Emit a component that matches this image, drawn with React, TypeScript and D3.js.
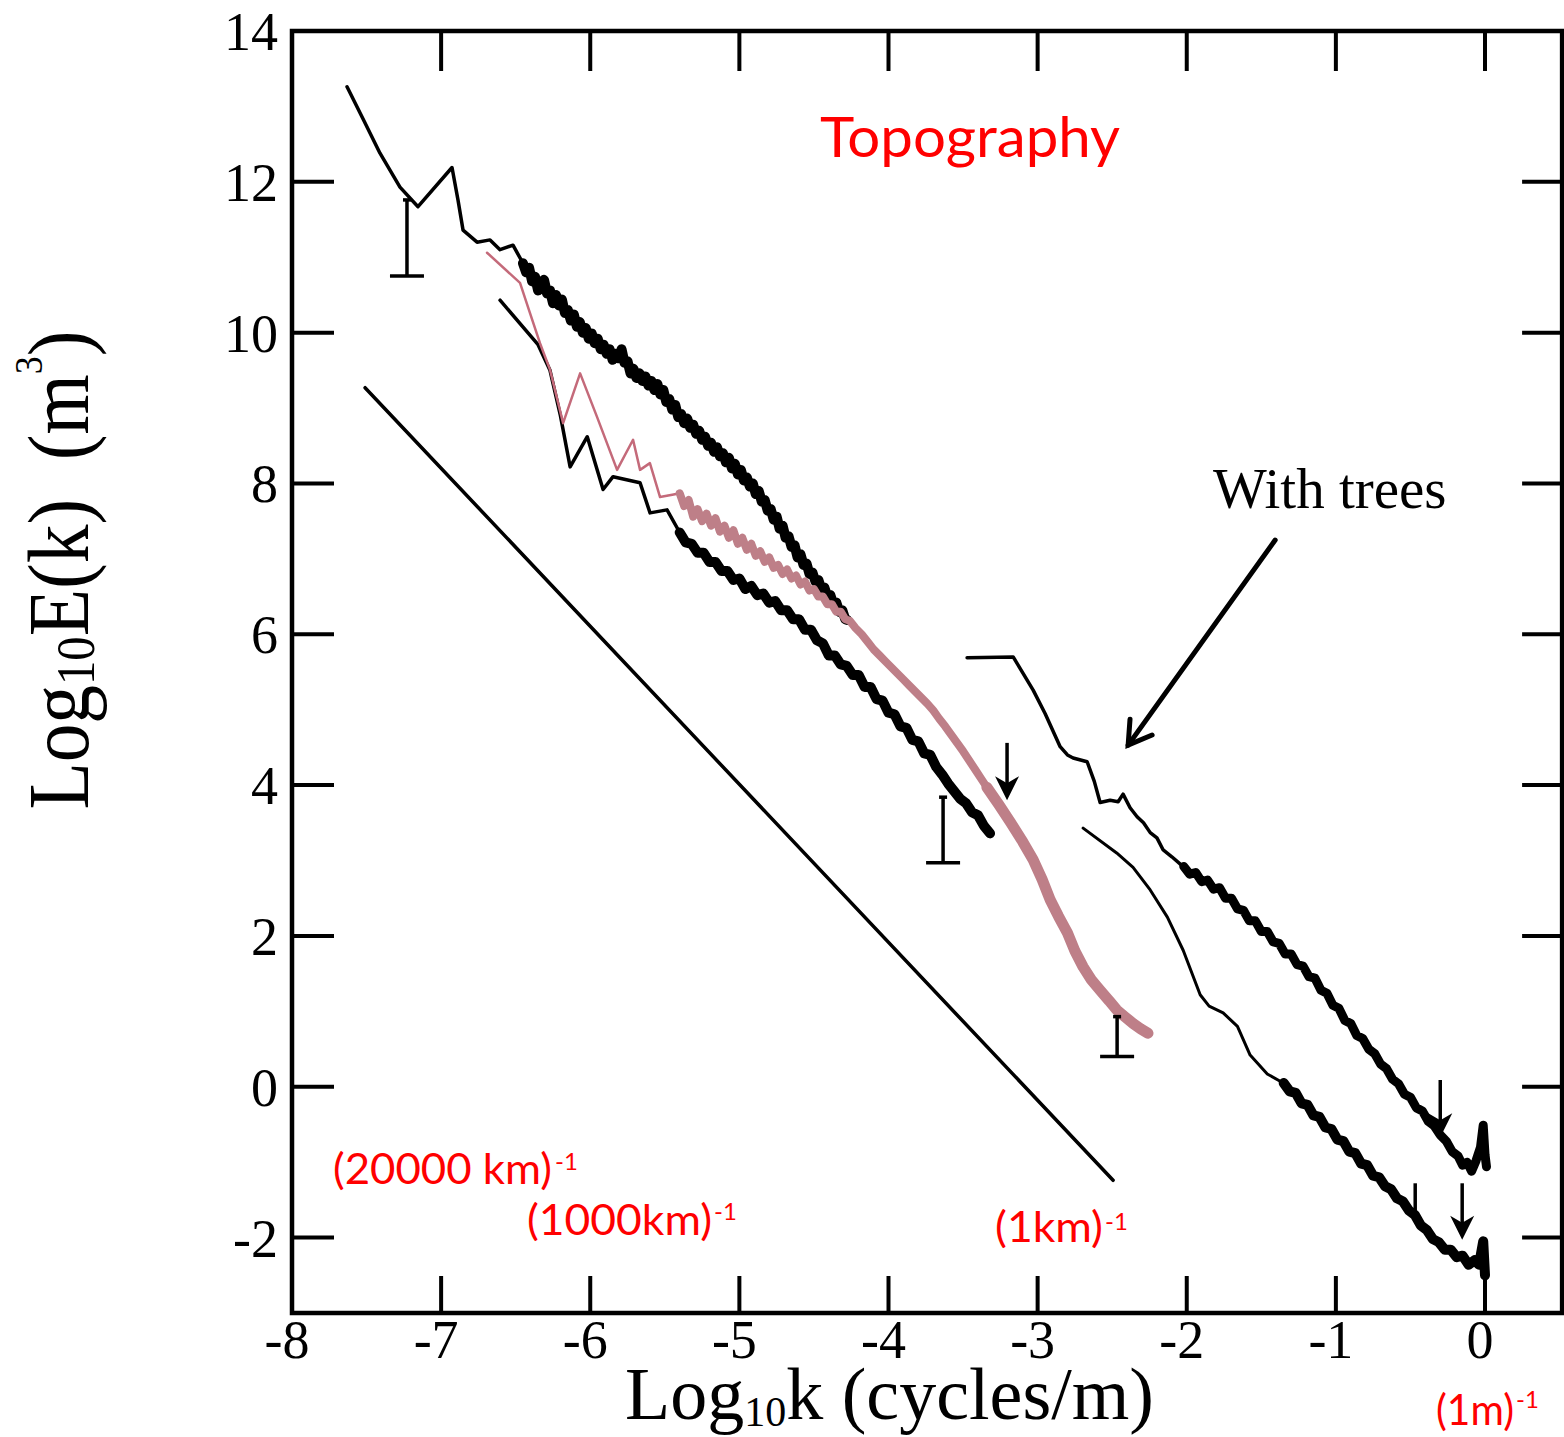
import React from "react";
import * as d3 from "d3";

type P = [number, number];

// ---------- axis ticks ----------
const xTicks = [-8, -7, -6, -5, -4, -3, -2, -1, 0];
const yTicks = [14, 12, 10, 8, 6, 4, 2, 0, -2];

// ---------- series (log10 k, log10 E) ----------
const topLeftThin: P[] = [
  [-7.631, 13.26], [-7.52, 12.82], [-7.41, 12.38], [-7.276, 11.93], [-7.155, 11.67],
  [-6.927, 12.19], [-6.887, 11.76], [-6.853, 11.36], [-6.759, 11.2], [-6.672, 11.23],
  [-6.605, 11.1], [-6.518, 11.16], [-6.451, 10.92],
];
const upperThick: P[] = [
  [-6.451, 10.92], [-6.43, 10.8], [-6.41, 10.86], [-6.39, 10.68], [-6.37, 10.74], [-6.35, 10.56],
  [-6.33, 10.62], [-6.31, 10.7], [-6.29, 10.52], [-6.27, 10.56], [-6.25, 10.39], [-6.23, 10.5],
  [-6.21, 10.36], [-6.19, 10.44], [-6.17, 10.26], [-6.15, 10.3], [-6.13, 10.16], [-6.11, 10.24],
  [-6.09, 10.08], [-6.07, 10.14], [-6.05, 10.0], [-6.03, 10.06], [-6.01, 9.92], [-5.99, 9.99],
  [-5.97, 9.86], [-5.95, 9.92], [-5.93, 9.78], [-5.91, 9.84], [-5.89, 9.72], [-5.87, 9.78],
  [-5.85, 9.64], [-5.83, 9.72], [-5.81, 9.66], [-5.79, 9.78], [-5.77, 9.6], [-5.75, 9.62],
  [-5.73, 9.46], [-5.71, 9.52], [-5.69, 9.4], [-5.67, 9.46], [-5.65, 9.36], [-5.63, 9.42],
  [-5.61, 9.3], [-5.59, 9.36], [-5.57, 9.24], [-5.55, 9.32], [-5.53, 9.18], [-5.51, 9.24],
  [-5.49, 9.08], [-5.47, 9.12], [-5.45, 8.98], [-5.43, 9.04], [-5.41, 8.88], [-5.39, 8.92],
  [-5.37, 8.8], [-5.35, 8.86], [-5.33, 8.74], [-5.31, 8.78], [-5.29, 8.66], [-5.27, 8.7],
  [-5.25, 8.58], [-5.23, 8.62], [-5.21, 8.5], [-5.19, 8.54], [-5.17, 8.42], [-5.15, 8.48],
  [-5.13, 8.36], [-5.11, 8.4], [-5.09, 8.28], [-5.07, 8.34], [-5.05, 8.2], [-5.03, 8.26],
  [-5.01, 8.12], [-4.99, 8.18], [-4.97, 8.04], [-4.95, 8.08], [-4.93, 7.96], [-4.91, 8.0],
  [-4.89, 7.86], [-4.87, 7.9], [-4.85, 7.76], [-4.83, 7.78], [-4.81, 7.64], [-4.79, 7.66],
  [-4.77, 7.52], [-4.75, 7.56], [-4.73, 7.4], [-4.71, 7.44], [-4.69, 7.28], [-4.67, 7.3],
  [-4.65, 7.16], [-4.63, 7.18], [-4.61, 7.02], [-4.59, 7.06], [-4.57, 6.92], [-4.55, 6.94],
  [-4.53, 6.8], [-4.51, 6.82], [-4.49, 6.7], [-4.47, 6.72], [-4.45, 6.6], [-4.43, 6.62],
  [-4.41, 6.5], [-4.39, 6.52], [-4.37, 6.4], [-4.35, 6.42], [-4.33, 6.3], [-4.31, 6.32],
  [-4.29, 6.2], [-4.278, 6.19],
];
const lowerThin: P[] = [
  [-6.605, 10.43], [-6.35, 9.84], [-6.27, 9.5], [-6.2, 8.9], [-6.135, 8.22], [-6.02, 8.62],
  [-5.914, 7.92], [-5.847, 8.09], [-5.666, 8.01], [-5.599, 7.61], [-5.485, 7.65], [-5.4, 7.35],
];
const lowerThick: P[] = [
  [-5.4, 7.35], [-5.36, 7.22], [-5.32, 7.2], [-5.28, 7.08], [-5.24, 7.08], [-5.2, 6.96],
  [-5.16, 6.96], [-5.12, 6.84], [-5.08, 6.84], [-5.04, 6.72], [-5.0, 6.74], [-4.96, 6.6],
  [-4.92, 6.64], [-4.88, 6.52], [-4.84, 6.54], [-4.8, 6.42], [-4.76, 6.44], [-4.72, 6.32],
  [-4.68, 6.32], [-4.64, 6.2], [-4.6, 6.2], [-4.56, 6.06], [-4.52, 6.06], [-4.48, 5.92],
  [-4.44, 5.88], [-4.4, 5.72], [-4.36, 5.72], [-4.32, 5.6], [-4.28, 5.58], [-4.24, 5.46],
  [-4.2, 5.46], [-4.16, 5.3], [-4.12, 5.3], [-4.08, 5.14], [-4.04, 5.12], [-4.0, 4.96],
  [-3.96, 4.94], [-3.92, 4.78], [-3.88, 4.76], [-3.84, 4.6], [-3.8, 4.58], [-3.76, 4.42],
  [-3.72, 4.4], [-3.68, 4.24], [-3.64, 4.14], [-3.6, 4.02], [-3.56, 3.92], [-3.52, 3.82],
  [-3.48, 3.76], [-3.44, 3.64], [-3.4, 3.6], [-3.36, 3.46], [-3.319, 3.36],
];
const pinkThin: P[] = [
  [-6.692, 11.06], [-6.471, 10.66], [-6.404, 10.26], [-6.337, 9.86], [-6.27, 9.51], [-6.182, 8.8],
  [-6.068, 9.46], [-5.954, 8.88], [-5.82, 8.18], [-5.713, 8.58], [-5.666, 8.18], [-5.6, 8.27],
  [-5.532, 7.82], [-5.45, 7.85], [-5.398, 7.87],
];
const pinkThickA: P[] = [
  [-5.4, 7.87], [-5.37, 7.7], [-5.34, 7.78], [-5.31, 7.56], [-5.28, 7.66], [-5.25, 7.5],
  [-5.22, 7.6], [-5.19, 7.44], [-5.16, 7.54], [-5.13, 7.36], [-5.1, 7.44], [-5.07, 7.28],
  [-5.04, 7.38], [-5.01, 7.2], [-4.98, 7.28], [-4.95, 7.12], [-4.92, 7.2], [-4.89, 7.04],
  [-4.86, 7.1], [-4.83, 6.96], [-4.8, 7.02], [-4.77, 6.88], [-4.74, 6.92], [-4.71, 6.8],
  [-4.68, 6.86], [-4.65, 6.74], [-4.62, 6.78], [-4.59, 6.66], [-4.56, 6.7], [-4.53, 6.58],
  [-4.5, 6.6], [-4.47, 6.5], [-4.44, 6.5], [-4.41, 6.4], [-4.38, 6.4], [-4.35, 6.3],
  [-4.32, 6.3], [-4.29, 6.2], [-4.26, 6.18], [-4.22, 6.08], [-4.18, 6.0], [-4.14, 5.9],
  [-4.1, 5.8], [-4.06, 5.72], [-4.02, 5.64], [-3.98, 5.56], [-3.94, 5.48], [-3.9, 5.4],
  [-3.86, 5.32], [-3.82, 5.24], [-3.78, 5.16], [-3.74, 5.08], [-3.7, 4.99], [-3.66, 4.88],
  [-3.62, 4.78], [-3.58, 4.67], [-3.54, 4.56], [-3.5, 4.45], [-3.46, 4.33], [-3.42, 4.21],
  [-3.38, 4.09], [-3.34, 3.97],
];
const pinkThickB: P[] = [
  [-3.34, 3.97], [-3.26, 3.74], [-3.18, 3.5], [-3.1, 3.25], [-3.03, 3.01], [-2.97, 2.75],
  [-2.916, 2.48], [-2.86, 2.26], [-2.8, 2.04], [-2.75, 1.8], [-2.695, 1.59], [-2.64, 1.42],
  [-2.581, 1.28], [-2.52, 1.14], [-2.47, 1.02], [-2.41, 0.92], [-2.36, 0.84], [-2.31, 0.77],
  [-2.26, 0.71],
];
const refLine: P[] = [[-7.51, 9.27], [-2.494, -1.24]];
const treesUpperThin: P[] = [
  [-3.473, 5.69], [-3.164, 5.7], [-3.03, 5.26], [-2.95, 4.95], [-2.849, 4.51], [-2.8, 4.4],
  [-2.762, 4.36], [-2.668, 4.31], [-2.62, 4.05], [-2.581, 3.77], [-2.514, 3.8], [-2.46, 3.78],
  [-2.427, 3.88], [-2.38, 3.7], [-2.333, 3.58], [-2.29, 3.5], [-2.245, 3.37], [-2.2, 3.3],
  [-2.158, 3.14], [-2.1, 3.05], [-2.024, 2.92],
];
const treesUpperThick: P[] = [
  [-2.02, 2.92], [-1.98, 2.82], [-1.94, 2.84], [-1.9, 2.72], [-1.86, 2.74], [-1.82, 2.62],
  [-1.78, 2.64], [-1.74, 2.5], [-1.7, 2.5], [-1.66, 2.36], [-1.62, 2.34], [-1.58, 2.2],
  [-1.54, 2.2], [-1.5, 2.06], [-1.46, 2.06], [-1.42, 1.92], [-1.38, 1.9], [-1.34, 1.76],
  [-1.3, 1.76], [-1.26, 1.62], [-1.22, 1.6], [-1.18, 1.46], [-1.14, 1.44], [-1.1, 1.28],
  [-1.06, 1.24], [-1.02, 1.08], [-0.98, 1.04], [-0.94, 0.88], [-0.9, 0.84], [-0.86, 0.68],
  [-0.82, 0.64], [-0.78, 0.5], [-0.74, 0.44], [-0.7, 0.3], [-0.66, 0.24], [-0.62, 0.1],
  [-0.58, 0.04], [-0.54, -0.1], [-0.5, -0.14], [-0.46, -0.28], [-0.42, -0.32], [-0.38, -0.46],
  [-0.34, -0.52], [-0.3, -0.64], [-0.26, -0.72], [-0.22, -0.86], [-0.18, -0.92], [-0.15, -1.04],
  [-0.12, -1.0], [-0.09, -1.12], [-0.06, -0.98], [-0.03, -0.8], [-0.012, -0.51], [0.0, -0.9],
  [0.01, -1.06],
];
const treesLowerThin: P[] = [
  [-2.695, 3.43], [-2.47, 3.1], [-2.36, 2.91], [-2.245, 2.61], [-2.13, 2.25], [-2.024, 1.81],
  [-1.91, 1.22], [-1.85, 1.07], [-1.756, 0.98], [-1.66, 0.8], [-1.575, 0.42], [-1.46, 0.17],
  [-1.353, 0.05],
];
const treesLowerThick: P[] = [
  [-1.35, 0.05], [-1.31, -0.06], [-1.27, -0.08], [-1.23, -0.22], [-1.19, -0.24], [-1.15, -0.38],
  [-1.11, -0.4], [-1.07, -0.54], [-1.03, -0.56], [-0.99, -0.7], [-0.95, -0.72], [-0.91, -0.86],
  [-0.87, -0.88], [-0.83, -1.02], [-0.79, -1.04], [-0.75, -1.18], [-0.71, -1.2], [-0.67, -1.32],
  [-0.63, -1.36], [-0.59, -1.48], [-0.55, -1.52], [-0.51, -1.64], [-0.47, -1.7], [-0.43, -1.84],
  [-0.39, -1.9], [-0.35, -2.02], [-0.31, -2.06], [-0.27, -2.16], [-0.23, -2.16], [-0.19, -2.26],
  [-0.15, -2.24], [-0.11, -2.36], [-0.07, -2.3], [-0.04, -2.36], [-0.012, -2.05], [0.0, -2.5],
];

// error bars: [x, yTop, yBottom, hasCap]
const errorBars: [number, number, number, boolean][] = [
  [-7.229, 11.76, 10.75, true],
  [-3.634, 3.84, 2.97, true],
  [-2.467, 0.93, 0.4, true],
  [-0.468, -1.28, -1.67, false],
];
// downward arrows: [x, yStart, yEnd]
const downArrows: [number, number, number][] = [
  [-3.205, 4.56, 3.8],
  [-0.3, 0.09, -0.67],
  [-0.153, -1.28, -2.03],
];
const pointerArrow: P[] = [[-1.407, 7.25], [-2.393, 4.53]];

const X_RIGHT_EDGE = 0.517;

export default function App() {
  const x = d3.scaleLinear().domain([-8, 0]).range([292, 1485]);
  const y = d3.scaleLinear().domain([-3, 14]).range([1313, 31]);
  const line = d3.line<P>().x((d) => x(d[0])).y((d) => y(d[1]));

  const left = x(-8);
  const right = x(X_RIGHT_EDGE);
  const top = y(14);
  const bottom = y(-3);

  const serif = "'Liberation Serif', 'Times New Roman', serif";
  const sans = "Lato, 'Open Sans', sans-serif";
  const pinkThinC = "#c46a7a";
  const pinkThickC = "#be7f88";

  const seg = (d: P[], w: number, c = "#000") => (
    <path d={line(d) || ""} fill="none" stroke={c} strokeWidth={w} strokeLinejoin="round" strokeLinecap="round" />
  );

  // pointer arrow geometry
  const [p0, p1] = pointerArrow;
  const ax0 = x(p0[0]), ay0 = y(p0[1]), ax1 = x(p1[0]), ay1 = y(p1[1]);
  const ang = Math.atan2(ay1 - ay0, ax1 - ax0);
  const hl = 26, ha = 0.55;
  const h1 = [ax1 - hl * Math.cos(ang - ha), ay1 - hl * Math.sin(ang - ha)];
  const h2 = [ax1 - hl * Math.cos(ang + ha), ay1 - hl * Math.sin(ang + ha)];

  return (
    <svg width={1564} height={1437} style={{ position: "absolute", left: 0, top: 0, background: "#fff" }}>
      <rect x={0} y={0} width={1564} height={1437} fill="#fff" />

      {/* ticks */}
      {xTicks.filter((t) => t > -8).map((t) => (
        <g key={"xt" + t}>
          <line x1={x(t)} x2={x(t)} y1={bottom} y2={bottom - 37} stroke="#000" strokeWidth={4} />
          <line x1={x(t)} x2={x(t)} y1={top} y2={top + 40} stroke="#000" strokeWidth={4} />
        </g>
      ))}
      {yTicks.filter((t) => t < 14).map((t) => (
        <g key={"yt" + t}>
          <line x1={left} x2={left + 42} y1={y(t)} y2={y(t)} stroke="#000" strokeWidth={4} />
          <line x1={right} x2={right - 40} y1={y(t)} y2={y(t)} stroke="#000" strokeWidth={4} />
        </g>
      ))}
      <rect x={left} y={top} width={right - left} height={bottom - top} fill="none" stroke="#000" strokeWidth={4.5} />

      {/* tick labels */}
      {xTicks.map((t) => (
        <text key={"xl" + t} x={x(t) - 5} y={1358} textAnchor="middle" fontFamily={serif} fontSize={54} fill="#000">
          {t}
        </text>
      ))}
      {yTicks.map((t) => (
        <text key={"yl" + t} x={278} y={y(t) + 19} textAnchor="end" fontFamily={serif} fontSize={54} fill="#000">
          {t}
        </text>
      ))}

      {/* axis titles */}
      <text x={625} y={1419} fontFamily={serif} fontSize={74} fill="#000">
        Log<tspan fontSize={42} dy={7}>10</tspan>
        <tspan dy={-7}>k (cycles/m)</tspan>
      </text>
      <g transform="translate(88,570) rotate(-90) scale(0.9,1)">
        <text x={0} y={0} textAnchor="middle" fontFamily={serif} fontSize={86} fill="#000">
          Log<tspan fontSize={54} dy={6}>10</tspan>
          <tspan dy={-6}>E(k)&#160;&#160;(m</tspan>
          <tspan fontSize={40} dy={-46}>3</tspan>
          <tspan dy={46}>)</tspan>
        </text>
      </g>

      {/* reference slope line */}
      {seg(refLine, 3.5)}

      {/* black spectra */}
      {seg(topLeftThin, 3.5)}
      {seg(upperThick, 10)}
      {seg(lowerThin, 3.5)}
      {seg(lowerThick, 10)}
      {seg(treesUpperThin, 3.5)}
      {seg(treesUpperThick, 9)}
      {seg(treesLowerThin, 3)}
      {seg(treesLowerThick, 10)}

      {/* pink spectrum */}
      {seg(pinkThin, 2.5, pinkThinC)}
      {seg(pinkThickA, 8, pinkThickC)}
      {seg(pinkThickB, 11, pinkThickC)}

      {/* error bars */}
      {errorBars.map(([ex, yt, yb, cap], i) => (
        <g key={"eb" + i} stroke="#000" strokeWidth={3.5}>
          <line x1={x(ex)} x2={x(ex)} y1={y(yt)} y2={y(yb)} />
          {cap && <line x1={x(ex) - 17} x2={x(ex) + 17} y1={y(yb)} y2={y(yb)} />}
          {cap && <line x1={x(ex) - 4} x2={x(ex) + 4} y1={y(yt)} y2={y(yt)} />}
        </g>
      ))}

      {/* down arrows */}
      {downArrows.map(([dx, ys, ye], i) => {
        const cx = x(dx), y0 = y(ys), y1 = y(ye);
        return (
          <g key={"da" + i}>
            <line x1={cx} x2={cx} y1={y0} y2={y1 - 10} stroke="#000" strokeWidth={3.5} />
            <path d={`M${cx},${y1} L${cx - 12},${y1 - 24} L${cx},${y1 - 17} L${cx + 12},${y1 - 24} Z`} fill="#000" />
          </g>
        );
      })}

      {/* pointer arrow */}
      <g stroke="#000" strokeWidth={5} strokeLinecap="round" fill="none">
        <line x1={ax0} y1={ay0} x2={ax1} y2={ay1} />
        <polyline points={`${h1[0]},${h1[1]} ${ax1},${ay1} ${h2[0]},${h2[1]}`} strokeLinejoin="miter" />
      </g>

      {/* annotations */}
      <text x={820} y={157} fontFamily={sans} fontSize={56} fill="#ff0000" textLength={300} lengthAdjust="spacingAndGlyphs">
        Topography
      </text>
      <text x={1213} y={508} fontFamily={serif} fontSize={57} fill="#000">
        With trees
      </text>

      <text x={333} y={1184} fontFamily={sans} fontSize={43} fill="#ff0000" textLength={219} lengthAdjust="spacingAndGlyphs">
        (20000 km)
      </text>
      <text x={555} y={1170} fontFamily={sans} fontSize={24} fill="#ff0000">-1</text>

      <text x={527} y={1235} fontFamily={sans} fontSize={43} fill="#ff0000" textLength={185} lengthAdjust="spacingAndGlyphs">
        (1000km)
      </text>
      <text x={714} y={1220} fontFamily={sans} fontSize={24} fill="#ff0000">-1</text>

      <text x={995} y={1242} fontFamily={sans} fontSize={43} fill="#ff0000" textLength={108} lengthAdjust="spacingAndGlyphs">
        (1km)
      </text>
      <text x={1105} y={1230} fontFamily={sans} fontSize={24} fill="#ff0000">-1</text>

      <text x={1436} y={1425} fontFamily={sans} fontSize={43} fill="#ff0000" textLength={78} lengthAdjust="spacingAndGlyphs">
        (1m)
      </text>
      <text x={1516} y={1408} fontFamily={sans} fontSize={24} fill="#ff0000">-1</text>
    </svg>
  );
}
